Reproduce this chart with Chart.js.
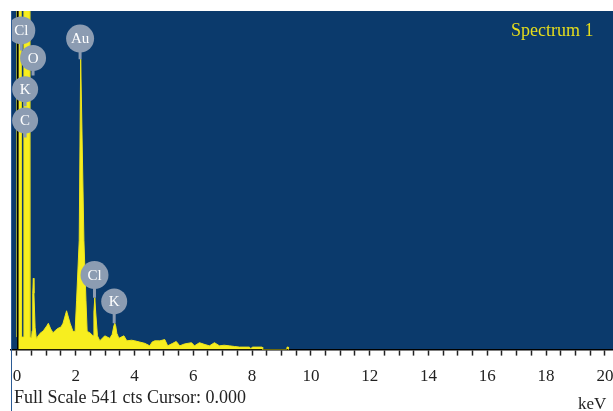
<!DOCTYPE html>
<html><head><meta charset="utf-8">
<script src="https://cdn.jsdelivr.net/npm/chart.js@4.4.1/dist/chart.umd.min.js"></script>
<style>
html,body{margin:0;padding:0;background:#fff;}
#wrap{position:relative;width:613px;height:411px;overflow:hidden;}
#c{position:absolute;left:0;top:0;}
#frame{position:absolute;left:11px;top:11px;width:1px;height:400px;background:#2b5b95;}
.txt{position:absolute;font-family:'Liberation Serif','DejaVu Serif',serif;color:#222;white-space:nowrap;line-height:normal;}
</style></head><body>
<div id="wrap">
<canvas id="c" width="660" height="411"></canvas>
<div id="frame"></div>
<div class="txt" style="left:511px;top:20px;font-size:18px;color:#e6dd1c;">Spectrum 1</div>
<div class="txt" style="left:14px;top:387px;font-size:18px;">Full Scale 541 cts Cursor: 0.000</div>
<div class="txt" style="left:578px;top:394px;font-size:17px;">keV</div>
</div>
<script>
// Spectrum (energy in keV, counts)
const spectrumKeV = [
 0.00,0.01,0.02,0.03,0.06,0.08,0.14,0.16,0.22,0.24,0.42,0.44,0.50,0.52,0.54,0.56,0.58,0.62,0.66,
 0.68,0.79,0.90,1.02,1.07,1.15,1.23,1.32,1.40,1.50,1.57,1.63,1.69,1.75,1.81,1.91,1.98,
 2.03,2.12,2.17,2.28,2.35,2.39,2.48,2.59,2.62,2.65,2.68,2.74,2.82,2.99,3.16,3.24,3.30,3.33,3.36,3.40,3.47,
 3.55,3.64,3.74,3.90,4.01,4.18,4.35,4.52,4.60,4.69,4.86,5.03,5.13,5.30,5.42,5.54,5.70,
 5.94,6.04,6.21,6.40,6.55,6.72,6.89,7.05,7.23,7.40,7.57,7.91,7.95,8.02,8.34,8.36,
 9.18,9.19,9.23,9.24
];
const spectrumCounts = [
 20,900,900,20,20,900,900,20,20,900,900,20,19,30,90,114,90,35,18,
 19,26,30,38,42,33,27,31,34,36,42,52,62,52,42,29,29,
 78,174,464,174,78,29,27,22,60,83,60,22,14,22,18,24,38,42,38,26,18,
 20,22,14,15,14,12,10,6,12,14,14,16,6,10,13,6,9,
 11,6,11,8,6,11,6,7,6,5,4,4,1.5,4,4,0,
 0,4,4,0
];
const fullScale = 541;          // cts
const cursorKeV = 0.03;
const xMin = -0.2, xMax = 21.8, minorStep = 0.5;
const tickLabels = ['0','2','4','6','8','10','12','14','16','18','20'];

// Element badges
const labelNames  = ['Cl','O','K','C','Au','Cl','K'];
const labelKeV    = [0.15, 0.55, 0.28, 0.28, 2.15, 2.64, 3.31];
const labelCounts = [510, 466, 416, 366, 497, 119, 77];
const stemCounts  = [478, 438, 389, 339, 464, 83, 42];

const FONT = "'Liberation Serif','DejaVu Serif',serif";

const bgPlugin = {
  id: 'bg',
  beforeDraw(chart) {
    const {ctx, chartArea: a} = chart;
    ctx.save();
    ctx.fillStyle = '#0b3a6c';
    ctx.fillRect(a.left, a.top, a.right - a.left, a.bottom - a.top);
    ctx.restore();
  }
};

const badgePlugin = {
  id: 'badges',
  afterDatasetsDraw(chart) {
    const {ctx, chartArea: a, scales: {x, y}} = chart;
    ctx.save();
    ctx.beginPath();
    ctx.rect(a.left, a.top, a.right - a.left, a.bottom - a.top);
    ctx.clip();
    const col = '#8c9cb2';
    labelNames.forEach((name, i) => {
      const px = x.getPixelForValue(labelKeV[i]);
      const py = y.getPixelForValue(labelCounts[i]);
      const sy = y.getPixelForValue(stemCounts[i]);
      ctx.strokeStyle = col;
      ctx.lineWidth = 3;
      ctx.beginPath();
      ctx.moveTo(px, py);
      ctx.lineTo(px, sy);
      ctx.stroke();
      ctx.fillStyle = col;
      ctx.beginPath();
      ctx.arc(px, py, name.length > 1 ? 14 : 13, 0, Math.PI * 2);
      ctx.fill();
      ctx.fillStyle = '#ffffff';
      ctx.font = '15px ' + FONT;
      ctx.textAlign = 'center';
      ctx.textBaseline = 'middle';
      ctx.fillText(name, px, py + 1);
    });
    ctx.restore();
  }
};

new Chart(document.getElementById('c'), {
  type: 'line',
  data: {
    datasets: [
      {
        data: [{x: cursorKeV, y: 0}, {x: cursorKeV, y: fullScale}],
        borderColor: '#000000', borderWidth: 1.5, pointRadius: 0, fill: false, clip: 0
      },
      {
        data: spectrumKeV.map((k, i) => ({x: k, y: spectrumCounts[i]})),
        borderColor: '#eee41a', backgroundColor: '#f7ee1f', borderWidth: 1,
        pointRadius: 0, tension: 0, fill: 'origin', clip: 0
      }
    ]
  },
  options: {
    responsive: false,
    animation: false,
    events: [],
    layout: {padding: {left: 11, top: 11, right: 0, bottom: 13}},
    plugins: {legend: {display: false}, tooltip: {enabled: false}, title: {display: false}},
    scales: {
      x: {
        type: 'linear', min: xMin, max: xMax,
        afterBuildTicks(scale) {
          const t = [];
          for (let v = 0; v <= xMax; v += minorStep) t.push({value: v});
          scale.ticks = t;
        },
        grid: {drawOnChartArea: false, drawTicks: true, tickLength: 6, tickWidth: 1.5, tickColor: '#222'},
        border: {display: true, color: '#000', width: 1.5},
        ticks: {
          autoSkip: false, maxRotation: 0, minRotation: 0, padding: 11, color: '#222',
          font: {family: FONT, size: 17},
          callback: (v) => tickLabels.includes(String(v)) ? String(v) : ''
        }
      },
      y: {display: false, min: 0, max: fullScale}
    }
  },
  plugins: [bgPlugin, badgePlugin]
});
</script>
</body></html>
